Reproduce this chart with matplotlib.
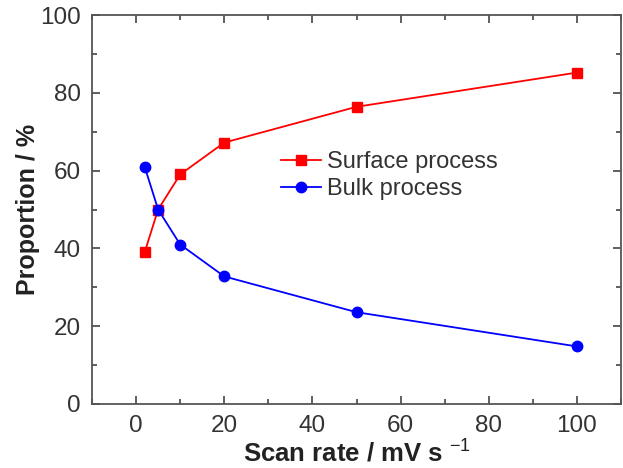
import matplotlib
matplotlib.use("Agg")
import matplotlib.pyplot as plt
from matplotlib.ticker import MultipleLocator

scan_rate = [2, 5, 10, 20, 50, 100]
surface = [39.2, 50.0, 59.0, 67.2, 76.4, 85.2]
bulk = [60.8, 50.0, 41.0, 32.8, 23.6, 14.8]

plt.rcParams['font.family'] = ['Liberation Sans', 'DejaVu Sans']
plt.rcParams['mathtext.fontset'] = 'custom'
plt.rcParams['mathtext.rm'] = 'Liberation Sans'
plt.rcParams['mathtext.it'] = 'Liberation Sans'
plt.rcParams['mathtext.bf'] = 'Liberation Sans:bold'

fig = plt.figure(figsize=(6.23, 4.68), dpi=100)
ax = fig.add_axes([92/623, 1-404/468, (621-92)/623, (404-15)/468])

ax.plot(scan_rate, surface, color='#ff0000', marker='s', markersize=7, lw=1.3, label='Surface process')
ax.plot(scan_rate, bulk, color='#0000ff', marker='o', markersize=7.5, lw=1.3, label='Bulk process')

ax.set_xlim(-10, 110)
ax.set_ylim(0, 100)
ax.xaxis.set_major_locator(MultipleLocator(20))
ax.xaxis.set_minor_locator(MultipleLocator(10))
ax.yaxis.set_major_locator(MultipleLocator(20))
ax.yaxis.set_minor_locator(MultipleLocator(10))
ax.tick_params(which='both', direction='in', top=True, right=True, labelsize=17.5,
               colors='#444444', labelcolor='#333333')
ax.tick_params(which='major', length=6, width=1.2, pad=8)
ax.tick_params(which='minor', length=3.5, width=1.2)
for s in ax.spines.values():
    s.set_linewidth(1.3)
    s.set_color('#555555')

ax.set_xlabel('Scan rate / mV s $^{-1}$', fontsize=18.5, fontweight='bold', labelpad=2, color='#222222')
ax.set_ylabel('Proportion / %', fontsize=18, fontweight='bold', labelpad=0, color='#222222')

ax.legend(loc='upper left', bbox_to_anchor=(0.34, 0.675), frameon=False, fontsize=17,
          handlelength=1.7, handletextpad=0.25, labelspacing=0.22, borderaxespad=0,
          labelcolor='#333333')

fig.savefig('out.png', dpi=100)
